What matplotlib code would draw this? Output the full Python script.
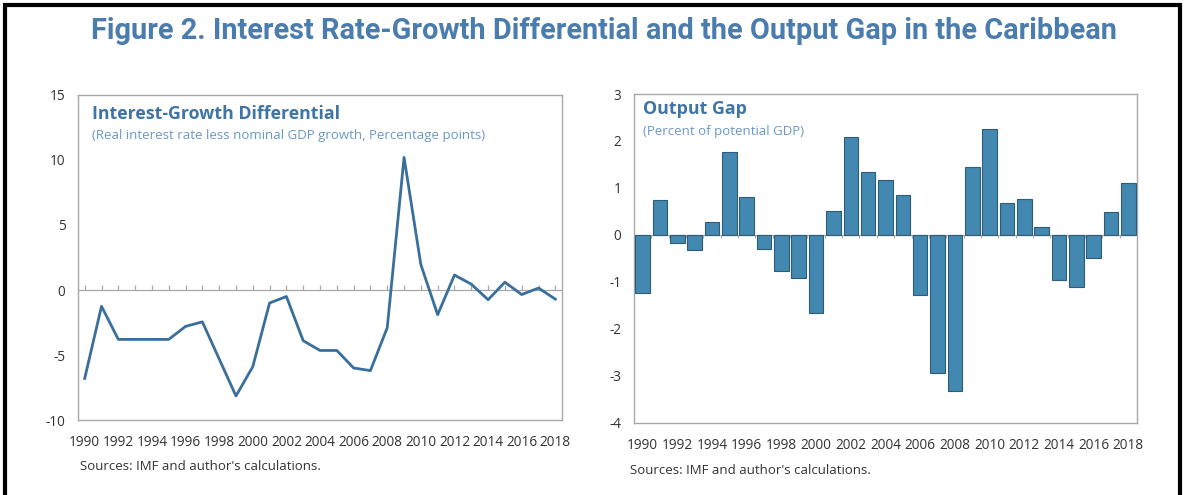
import numpy as np
import matplotlib
matplotlib.use("Agg")
import matplotlib.pyplot as plt
from matplotlib.patches import Rectangle

plt.rcParams['font.family'] = ['Open Sans', 'DejaVu Sans']
plt.rcParams['axes.unicode_minus'] = False

# data
years = np.arange(1990, 2019)
irgd = [-6.8, -1.25, -3.8, -3.8, -3.8, -3.8, -2.8, -2.45, -5.3, -8.15,
        -5.9, -1.0, -0.5, -3.9, -4.65, -4.65, -6.0, -6.2, -2.9, 10.2,
        1.95, -1.9, 1.15, 0.45, -0.75, 0.6, -0.35, 0.15, -0.7]
gap = [-1.23, 0.75, -0.18, -0.33, 0.27, 1.76, 0.80, -0.30, -0.77, -0.92,
       -1.67, 0.52, 2.09, 1.33, 1.17, 0.86, -1.27, -2.94, -3.33, 1.45,
       2.26, 0.69, 0.77, 0.17, -0.96, -1.11, -0.49, 0.48, 1.10]
xticks = np.arange(1990, 2019, 2)

title_col = '#4A7DAE'
head_col = '#3F74A6'
sub_col = '#6A98C6'
line_col = '#3A6F9C'
bar_col = '#4388B0'
bar_edge = '#2E5C78'
axis_col = '#A8A8A8'
text_col = '#333333'

fig = plt.figure(figsize=(11.85, 4.95), dpi=100)

fig.text(0.51, 0.937, 'Figure 2. Interest Rate-Growth Differential and the Output Gap in the Caribbean',
         ha='center', va='center', fontsize=20.8, fontweight='bold', color=title_col,
         family=['Roboto', 'DejaVu Sans'])

# frame round the whole figure
fig.patches.append(Rectangle((0.004, -0.01), 0.992, 1.0, transform=fig.transFigure,
                             fill=False, edgecolor='black', linewidth=3))


def style(ax):
    for s in ax.spines.values():
        s.set_color(axis_col)
        s.set_linewidth(1.0)
    ax.tick_params(axis='both', length=0, labelsize=9.8, labelcolor=text_col)
    ax.tick_params(axis='y', pad=9)
    ax.tick_params(axis='x', pad=11)
    ax.set_xticks(xticks)
    ax.set_xticklabels([str(y) for y in xticks])


# left panel: line
ax1 = fig.add_axes([0.0658, 0.1515, 0.4085, 0.6566])
ax1.axhline(0, color=axis_col, lw=0.9, zorder=1)
ax1.vlines(years, 0, 0.35, color=axis_col, lw=0.9, zorder=1)
ax1.plot(years, irgd, color=line_col, lw=2.0, zorder=3)
ax1.set_xlim(1989.6, 2018.4)
ax1.set_ylim(-10, 15)
ax1.set_yticks([-10, -5, 0, 5, 10, 15])
style(ax1)
ax1.text(0.029, 0.943, 'Interest-Growth Differential', transform=ax1.transAxes,
         ha='left', va='center', fontsize=12.8, fontweight='bold', color=head_col)
ax1.text(0.029, 0.876, '(Real interest rate less nominal GDP growth, Percentage points)',
         transform=ax1.transAxes, ha='left', va='center', fontsize=9.5, color=sub_col)
fig.text(0.0675, 0.058, "Sources: IMF and author's calculations.", ha='left', va='center',
         fontsize=9.5, color=text_col)

# right panel: bars
ax2 = fig.add_axes([0.535, 0.1455, 0.4245, 0.6646])
ax2.bar(years, gap, width=0.84, color=bar_col, edgecolor=bar_edge, linewidth=0.8, zorder=3)
ax2.axhline(0, color=axis_col, lw=0.9, zorder=2)
ax2.vlines(years[:-1] + 0.5, -0.06, 0, color=axis_col, lw=0.8, zorder=1)
ax2.set_xlim(1989.5, 2018.5)
ax2.set_ylim(-4, 3)
ax2.set_yticks(range(-4, 4))
style(ax2)
ax2.text(0.018, 0.955, 'Output Gap', transform=ax2.transAxes,
         ha='left', va='center', fontsize=12.8, fontweight='bold', color=head_col)
ax2.text(0.018, 0.885, '(Percent of potential GDP)', transform=ax2.transAxes,
         ha='left', va='center', fontsize=9.5, color=sub_col)
fig.text(0.532, 0.05, "Sources: IMF and author's calculations.", ha='left', va='center',
         fontsize=9.5, color=text_col)

fig.savefig('out.png', dpi=100)
